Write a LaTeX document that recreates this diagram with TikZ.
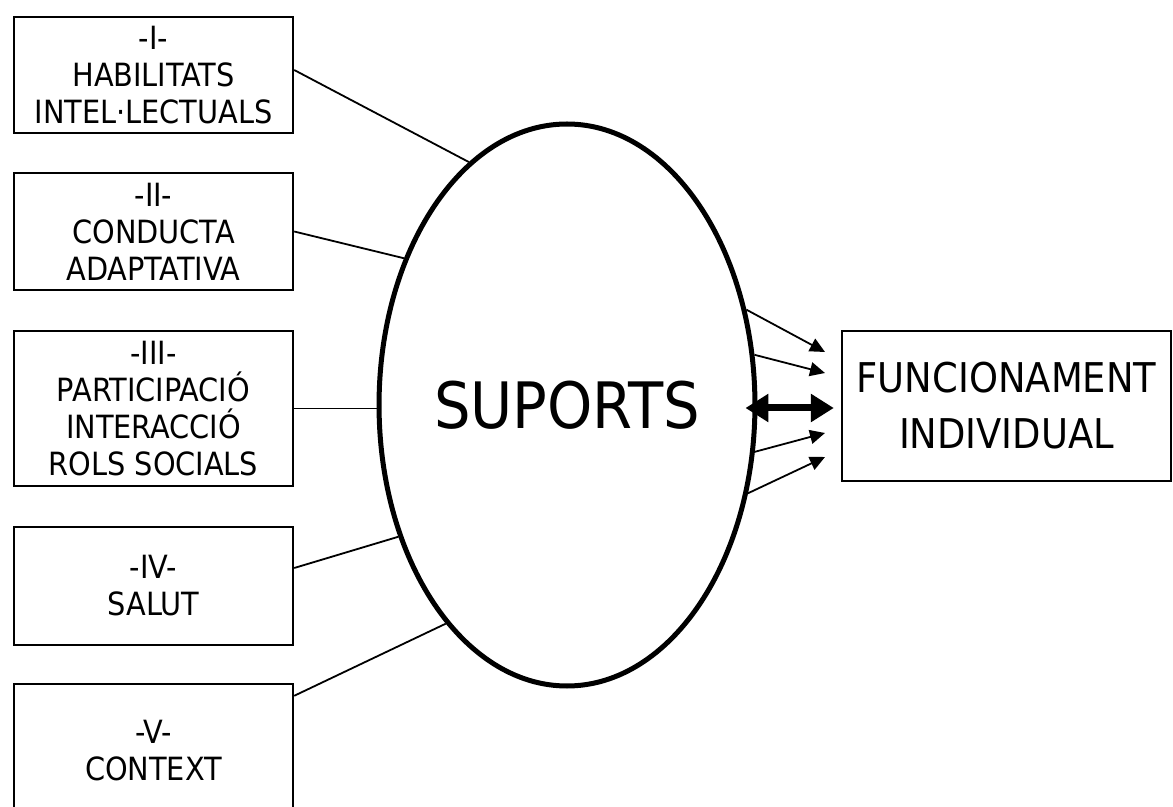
\documentclass[tikz,border=0pt]{standalone}
\usepackage{fontspec}
\setmainfont{DejaVu Sans Condensed}
\usetikzlibrary{shapes.geometric,arrows.meta}

\tikzstyle{dimbox}=[rectangle, draw, line width=1.2pt, inner sep=0pt, minimum width=139.5pt, align=center, font=\fontsize{16}{18.5}\selectfont]
\tikzstyle{suport}=[ellipse, draw, line width=2.5pt, inner sep=0pt, minimum width=185pt, minimum height=281pt, font=\fontsize{32}{36}\selectfont]
\tikzstyle{funcbox}=[rectangle, draw, line width=1.2pt, inner sep=0pt, minimum width=164.5pt, minimum height=75pt, align=center, font=\fontsize{20.5}{28}\selectfont]
\tikzstyle{link}=[line width=0.9pt]
\tikzstyle{efecte}=[line width=0.9pt, -{Triangle[length=7.5pt,width=7pt]}]
\tikzstyle{mutu}=[line width=3.5pt, {Triangle[length=11.5pt,width=13.5pt]}-{Triangle[length=11.5pt,width=13.5pt]}]

\begin{document}
\begin{tikzpicture}[x=0.5pt,y=-0.5pt]
    \useasboundingbox (0,0) rectangle (1173,807);
    % dimensions
    \node[dimbox, minimum height=58pt] (hab) at (153.5,75) {-I-\\HABILITATS\\INTEL·LECTUALS};
    \node[dimbox, minimum height=58.5pt] (cond) at (153.5,231.5) {-II-\\CONDUCTA\\ADAPTATIVA};
    \node[dimbox, minimum height=77.5pt] (part) at (153.5,408.5) {-III-\\PARTICIPACIÓ\\INTERACCIÓ\\ROLS SOCIALS};
    \node[dimbox, minimum height=59pt] (salut) at (153.5,586) {-IV-\\SALUT};
    \node[dimbox, minimum height=67pt] (ctx) at (153.5,751) {-V-\\CONTEXT};
    % centre
    \node[suport] (sup) at (567,405) {SUPORTS};
    \node[funcbox] (func) at (1006.5,406) {FUNCIONAMENT\\INDIVIDUAL};
    \coordinate (t1) at (825,352);
    \coordinate (t2) at (825,373);
    \coordinate (t3) at (825,433);
    \coordinate (t4) at (825,457);
    \path[draw,link]
    ([yshift=2.5pt]hab.east) edge (sup.112.5)
    (cond.east) edge (sup.138.6)
    (part.east) edge (sup.west |- part.east)
    ([yshift=9pt]salut.east) edge (sup.218.9)
    ([yshift=-6.5pt]ctx.north east) edge (sup.241.6)
	;
    \draw[efecte] (sup.28.5) -- (t1);
    \draw[efecte] (sup.15.3) -- (t2);
    \draw[efecte] (sup.-14.3) -- (t3);
    \draw[efecte] (sup.-26) -- (t4);
    \draw[mutu, shorten <=-6pt, shorten >=3.5pt] ([yshift=-1.5pt]sup.east) -- ([yshift=-1pt]func.west);
  \end{tikzpicture}
\end{document}
